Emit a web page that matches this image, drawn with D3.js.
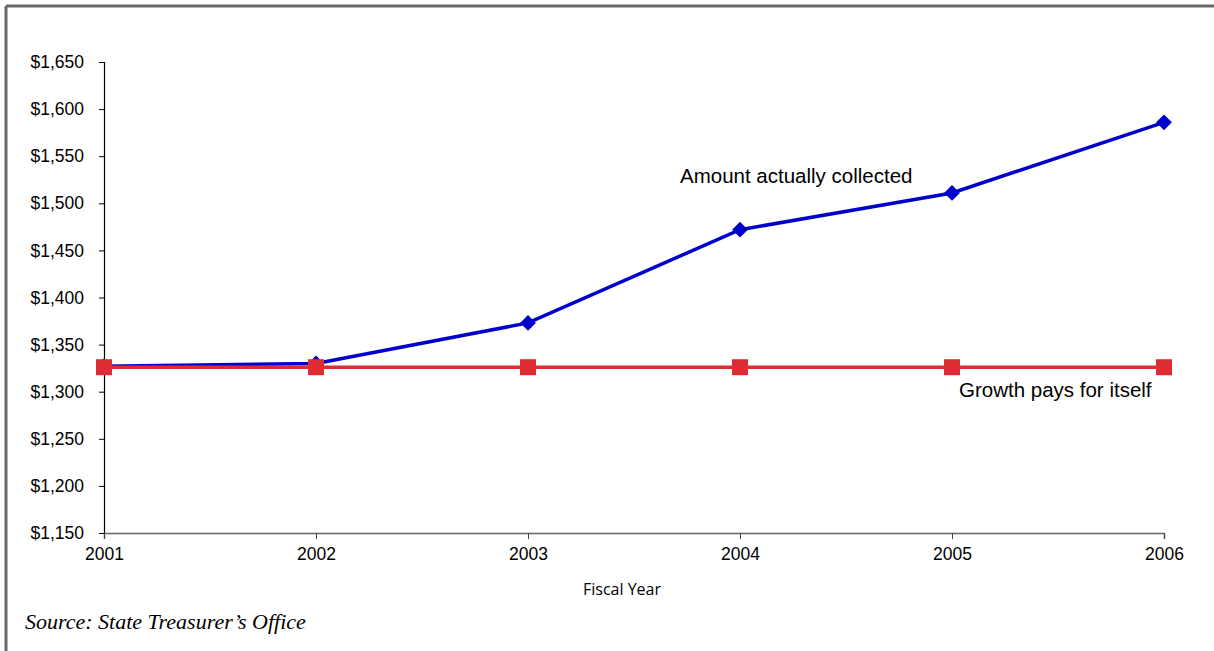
<!DOCTYPE html>
<html>
<head>
<meta charset="utf-8">
<script src="https://cdn.jsdelivr.net/npm/d3@7"></script>
<style>
  html, body { margin: 0; padding: 0; background: #fff; }
  svg { display: block; }
</style>
</head>
<body>
<svg id="chart" width="1214" height="651"></svg>
<script>
// Fiscal years and revenue series (millions of dollars)
const years = [2001, 2002, 2003, 2004, 2005, 2006];
const collected = [1327, 1330, 1373, 1472, 1511, 1586];
const breakEven = [1326, 1326, 1326, 1326, 1326, 1326];
const yTicks = [1150, 1200, 1250, 1300, 1350, 1400, 1450, 1500, 1550, 1600, 1650];

const svg = d3.select("#chart");
const W = 1214, H = 651;

// Frame lines along the top and left edges
svg.append("line").attr("x1", 6).attr("x2", W).attr("y1", 6).attr("y2", 6)
  .attr("stroke", "#6a6a6a").attr("stroke-width", 3);
svg.append("line").attr("x1", 6).attr("x2", 6).attr("y1", 6).attr("y2", H)
  .attr("stroke", "#6a6a6a").attr("stroke-width", 3);

const x = d3.scalePoint().domain(years).range([104, 1164]);
const y = d3.scaleLinear().domain([1150, 1650]).range([533, 62]);

const fmt = d => "$" + d3.format(",")(d);
const sans = "Liberation Sans, Arial, sans-serif";

// Y axis
const yAxis = svg.append("g").attr("transform", "translate(104,0)")
  .call(d3.axisLeft(y).tickValues(yTicks).tickFormat(fmt).tickSizeOuter(0).tickSize(5).tickPadding(15));
yAxis.select(".domain").attr("stroke", "#000").attr("stroke-width", 1.2);
yAxis.selectAll(".tick line").attr("stroke", "#000");
yAxis.selectAll("text").attr("font-family", sans)
  .attr("font-size", 17.5).attr("fill", "#000");

// X axis
const xAxis = svg.append("g").attr("transform", "translate(0,533)")
  .call(d3.axisBottom(x).tickSizeOuter(0).tickSize(6).tickPadding(9));
xAxis.select(".domain").attr("stroke", "#666").attr("stroke-width", 1.5);
xAxis.selectAll(".tick line").attr("stroke", "#444");
xAxis.selectAll("text").attr("font-family", sans)
  .attr("font-size", 17.5).attr("fill", "#000");

// X axis title
svg.append("text").attr("x", 622).attr("y", 595).attr("text-anchor", "middle")
  .attr("font-family", "Open Sans, sans-serif").attr("font-size", 16).attr("fill", "#000")
  .text("Fiscal Year");

// Amount actually collected
const blue = "#0000cc";
const line = (vals) => d3.line().x((d, i) => x(years[i])).y(d => y(d))(vals);
svg.append("path").attr("d", line(collected)).attr("fill", "none")
  .attr("stroke", blue).attr("stroke-width", 3.5);
svg.append("g").selectAll("path").data(collected).join("path")
  .attr("d", d3.symbol(d3.symbolSquare, 125)())
  .attr("transform", (d, i) => `translate(${x(years[i])},${y(d)}) rotate(45)`)
  .attr("fill", blue);

// Growth pays for itself
const red = "#de2c34";
svg.append("path").attr("d", line(breakEven)).attr("fill", "none")
  .attr("stroke", red).attr("stroke-width", 3.5);
svg.append("g").selectAll("rect").data(breakEven).join("rect")
  .attr("x", (d, i) => x(years[i]) - 8).attr("y", d => y(d) - 8)
  .attr("width", 16).attr("height", 16).attr("fill", red);

// Series labels
svg.append("text").attr("x", 680).attr("y", 183)
  .attr("font-family", sans).attr("font-size", 20.5).attr("fill", "#000")
  .text("Amount actually collected");
svg.append("text").attr("x", 959).attr("y", 397)
  .attr("font-family", sans).attr("font-size", 20.5).attr("fill", "#000")
  .text("Growth pays for itself");

// Source note
svg.append("text").attr("x", 25).attr("y", 629)
  .attr("font-family", "Liberation Serif, Times New Roman, serif").attr("font-style", "italic")
  .attr("font-size", 22).attr("fill", "#000")
  .text("Source: State Treasurer\u2019s Office");
</script>
</body>
</html>
